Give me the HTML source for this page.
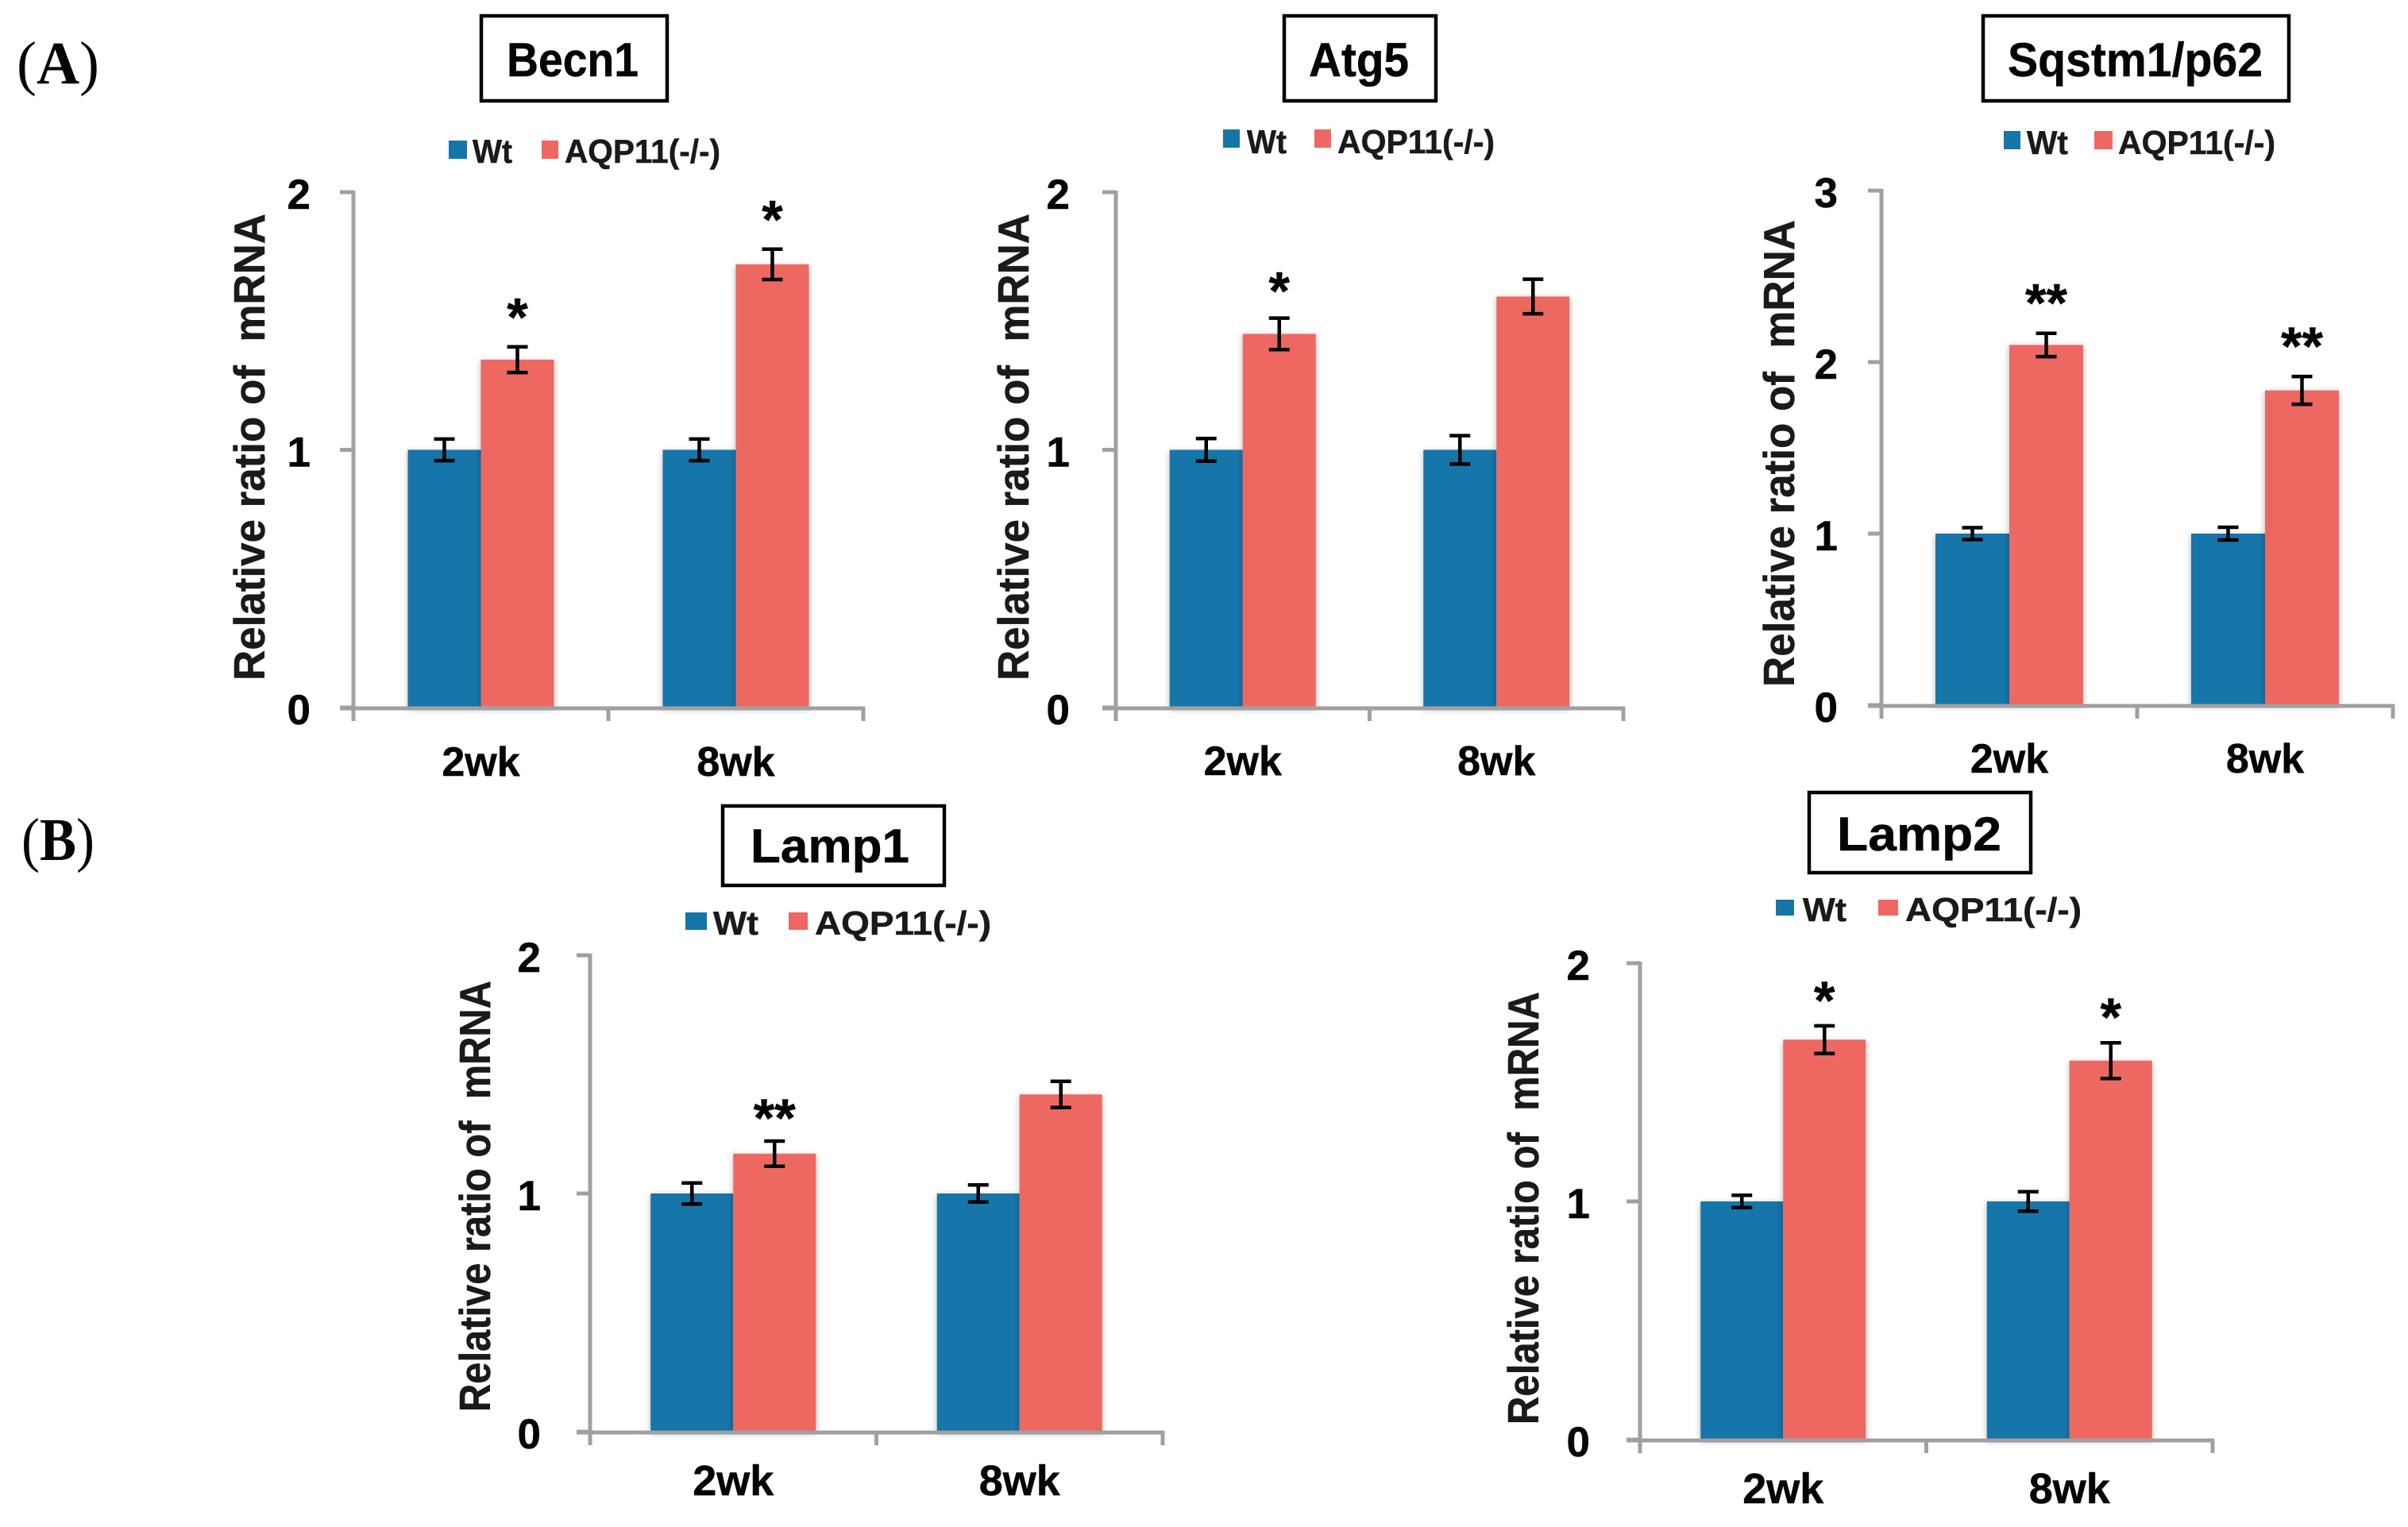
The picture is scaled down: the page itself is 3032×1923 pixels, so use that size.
<!DOCTYPE html>
<html lang="en">
<head>
<meta charset="utf-8">
<title>Relative mRNA ratio of autophagy genes</title>
<style>
  html, body { margin: 0; padding: 0; background: #ffffff; }
  svg { display: block; }
  text { font-family: "Liberation Sans", Arial, sans-serif; font-weight: bold; fill: #050505; stroke: #050505; stroke-width: 0.5; white-space: pre; }
  .panel-letter { font-family: "Liberation Serif", "Times New Roman", serif; font-size: 76px; font-weight: normal; stroke-width: 0; }
  .panel-letter tspan.bold { font-weight: bold; }
  .chart-title { font-size: 60px; }
  .legend-text { font-size: 42px; fill: #1a1a1a; stroke: #1a1a1a; }
  .y-title { font-size: 55px; fill: #1a1a1a; stroke: #1a1a1a; }
  .title-box { fill: #ffffff; stroke: #000000; stroke-width: 4.5; }
  .wt { fill: #1675a9; }
  .ko { fill: #ee6762; }
</style>
</head>
<body>
<svg id="figure" xmlns="http://www.w3.org/2000/svg" width="3032" height="1923" viewBox="0 0 3032 1923">
  <defs>
    <filter id="bar-shadow" x="-15%" y="-5%" width="130%" height="110%">
      <feDropShadow dx="0" dy="2" stdDeviation="4" flood-color="#000000" flood-opacity="0.3"/>
    </filter>
  </defs>
  <rect width="3032" height="1923" fill="#ffffff"/>

  <text class="panel-letter" x="21" y="105" textLength="104" lengthAdjust="spacingAndGlyphs">(<tspan class="bold">A</tspan>)</text>
  <text class="panel-letter" x="27" y="1083" textLength="92" lengthAdjust="spacingAndGlyphs">(<tspan class="bold">B</tspan>)</text>

  <g id="becn1">
    <rect class="title-box" x="606" y="20" width="234" height="107"/>
    <text class="chart-title" x="638" y="96" textLength="166" lengthAdjust="spacingAndGlyphs">Becn1</text>
    <rect class="wt" x="565" y="177" width="23" height="23"/>
    <text class="legend-text" x="595" y="205" textLength="50" lengthAdjust="spacingAndGlyphs">Wt</text>
    <rect class="ko" x="682" y="177" width="21" height="23"/>
    <text class="legend-text" x="711" y="205" textLength="196" lengthAdjust="spacingAndGlyphs">AQP11(-/-)</text>
    <text class="y-title" transform="translate(333,857) rotate(-90)" textLength="588" lengthAdjust="spacingAndGlyphs">Relative ratio of  mRNA</text>
  </g>

  <g id="atg5">
    <rect class="title-box" x="1617" y="20" width="191" height="107"/>
    <text class="chart-title" x="1648" y="96" textLength="126" lengthAdjust="spacingAndGlyphs">Atg5</text>
    <rect class="wt" x="1540" y="163" width="21" height="23"/>
    <text class="legend-text" x="1570" y="193" textLength="50" lengthAdjust="spacingAndGlyphs">Wt</text>
    <rect class="ko" x="1655" y="163" width="21" height="23"/>
    <text class="legend-text" x="1684" y="193" textLength="198" lengthAdjust="spacingAndGlyphs">AQP11(-/-)</text>
    <text class="y-title" transform="translate(1295,857) rotate(-90)" textLength="588" lengthAdjust="spacingAndGlyphs">Relative ratio of  mRNA</text>
  </g>

  <g id="sqstm1">
    <rect class="title-box" x="2497" y="20" width="385" height="107"/>
    <text class="chart-title" x="2528" y="96" textLength="321" lengthAdjust="spacingAndGlyphs">Sqstm1/p62</text>
    <rect class="wt" x="2523" y="165" width="21" height="23"/>
    <text class="legend-text" x="2552" y="194" textLength="52" lengthAdjust="spacingAndGlyphs">Wt</text>
    <rect class="ko" x="2637" y="165" width="23" height="23"/>
    <text class="legend-text" x="2667" y="194" textLength="198" lengthAdjust="spacingAndGlyphs">AQP11(-/-)</text>
    <text class="y-title" transform="translate(2259,865) rotate(-90)" textLength="588" lengthAdjust="spacingAndGlyphs">Relative ratio of  mRNA</text>
  </g>

  <g id="lamp1">
    <rect class="title-box" x="910" y="1015" width="279" height="100"/>
    <text class="chart-title" x="945" y="1086" textLength="200" lengthAdjust="spacingAndGlyphs">Lamp1</text>
    <rect class="wt" x="863" y="1149" width="27" height="22"/>
    <text class="legend-text" x="898" y="1177" textLength="57" lengthAdjust="spacingAndGlyphs">Wt</text>
    <rect class="ko" x="993" y="1149" width="24" height="22"/>
    <text class="legend-text" x="1026" y="1177" textLength="222" lengthAdjust="spacingAndGlyphs">AQP11(-/-)</text>
    <text class="y-title" transform="translate(617,1778) rotate(-90)" textLength="543" lengthAdjust="spacingAndGlyphs">Relative ratio of  mRNA</text>
  </g>

  <g id="lamp2">
    <rect class="title-box" x="2278" y="998" width="279" height="101"/>
    <text class="chart-title" x="2313" y="1071" textLength="207" lengthAdjust="spacingAndGlyphs">Lamp2</text>
    <rect class="wt" x="2236" y="1133" width="23" height="20"/>
    <text class="legend-text" x="2270" y="1160" textLength="55" lengthAdjust="spacingAndGlyphs">Wt</text>
    <rect class="ko" x="2365" y="1133" width="25" height="20"/>
    <text class="legend-text" x="2399" y="1160" textLength="222" lengthAdjust="spacingAndGlyphs">AQP11(-/-)</text>
    <text class="y-title" transform="translate(1937,1794) rotate(-90)" textLength="545" lengthAdjust="spacingAndGlyphs">Relative ratio of  mRNA</text>
  </g>
</svg>

<script>
// ---- Data ----
const categories = ['2wk', '8wk'];

const becn1Wt = [1.00, 1.00];
const becn1Ko = [1.35, 1.72];
const becn1WtErr = [0.042, 0.042];
const becn1KoErr = [0.050, 0.059];
const becn1Stars = ['*', '*'];
const becn1Ticks = ['0', '1', '2'];

const atg5Wt = [1.00, 1.00];
const atg5Ko = [1.45, 1.595];
const atg5WtErr = [0.044, 0.055];
const atg5KoErr = [0.061, 0.067];
const atg5Stars = ['*', ''];
const atg5Ticks = ['0', '1', '2'];

const sqstm1Wt = [1.00, 1.00];
const sqstm1Ko = [2.10, 1.835];
const sqstm1WtErr = [0.035, 0.037];
const sqstm1KoErr = [0.068, 0.081];
const sqstm1Stars = ['**', '**'];
const sqstm1Ticks = ['0', '1', '2', '3'];

const lamp1Wt = [1.00, 1.00];
const lamp1Ko = [1.167, 1.416];
const lamp1WtErr = [0.044, 0.036];
const lamp1KoErr = [0.053, 0.055];
const lamp1Stars = ['**', ''];
const lamp1Ticks = ['0', '1', '2'];

const lamp2Wt = [1.00, 1.00];
const lamp2Ko = [1.679, 1.591];
const lamp2WtErr = [0.026, 0.041];
const lamp2KoErr = [0.058, 0.075];
const lamp2Stars = ['*', '*'];
const lamp2Ticks = ['0', '1', '2'];

// ---- Frame geometry of each plot ----
const frames = {
  becn1:  { left: 445,  right: 1087, top: 242,  bottom: 891,  barWidth: 92,  labelGap: 54, tickFont: 53, catBaseline: 977,  catFont: 52, starGap: 47 },
  atg5:   { left: 1405, right: 2044, top: 242,  bottom: 891,  barWidth: 92,  labelGap: 58, tickFont: 53, catBaseline: 976,  catFont: 52, starGap: 44 },
  sqstm1: { left: 2369, right: 3013, top: 240,  bottom: 888,  barWidth: 93,  labelGap: 55, tickFont: 53, catBaseline: 973,  catFont: 52, starGap: 48 },
  lamp1:  { left: 743,  right: 1464, top: 1203, bottom: 1803, barWidth: 104, labelGap: 62, tickFont: 53, catBaseline: 1883, catFont: 54, starGap: 39 },
  lamp2:  { left: 2065, right: 2786, top: 1213, bottom: 1813, barWidth: 104, labelGap: 63, tickFont: 53, catBaseline: 1893, catFont: 54, starGap: 42 }
};

const SVG_NS = 'http://www.w3.org/2000/svg';
const AXIS_COLOR = '#a0a0a0';

function makeEl(tag, parent, props) {
  const el = document.createElementNS(SVG_NS, tag);
  Object.keys(props).forEach(function (k) { el.setAttribute(k, props[k]); });
  parent.appendChild(el);
  return el;
}

function drawChart(id, wt, ko, wtErr, koErr, stars, ticks) {
  const f = frames[id];
  const root = document.getElementById(id);
  const tickValues = ticks.map(Number);
  const yMax = Math.max.apply(null, tickValues);
  const yScale = function (v) { return f.bottom - (v / yMax) * (f.bottom - f.top); };
  const band = (f.right - f.left) / categories.length;
  const xCenter = function (i) { return f.left + (i + 0.5) * band; };

  // bars
  categories.forEach(function (cat, i) {
    const c = xCenter(i);
    const wtBar = makeEl('rect', root, { x: c - f.barWidth, y: yScale(wt[i]), width: f.barWidth, height: f.bottom - yScale(wt[i]), fill: '#1675a9', filter: 'url(#bar-shadow)' });
    
    
    const koBar = makeEl('rect', root, { x: c, y: yScale(ko[i]), width: f.barWidth, height: f.bottom - yScale(ko[i]), fill: '#ee6762', filter: 'url(#bar-shadow)' });
    
    
  });

  // axes
  const yAxis = makeEl('line', root, { x1: f.left, x2: f.left, y1: f.top - 2, y2: f.bottom + 17, stroke: AXIS_COLOR, 'stroke-width': 5 });
  
  
  const xAxis = makeEl('line', root, { x1: f.left - 17, x2: f.right + 2, y1: f.bottom + 1, y2: f.bottom + 1, stroke: AXIS_COLOR, 'stroke-width': 5 });
  
  

  ticks.forEach(function (t, i) {
    const y = yScale(tickValues[i]);
    const mark = makeEl('line', root, { x1: f.left - 17, x2: f.left, y1: y, y2: y, stroke: AXIS_COLOR, 'stroke-width': 5 });
    
    
    const label = makeEl('text', root, { x: f.left - f.labelGap, y: y + 21, 'text-anchor': 'end', 'font-size': f.tickFont });
    label.textContent = t;
    
    
  });

  for (let i = 1; i <= categories.length; i++) {
    const x = f.left + i * band;
    const mark = makeEl('line', root, { x1: x, x2: x, y1: f.bottom, y2: f.bottom + 17, stroke: AXIS_COLOR, 'stroke-width': 5 });
    
    
  }

  categories.forEach(function (cat, i) {
    const c = xCenter(i);
    const label = makeEl('text', root, { x: c, y: f.catBaseline, 'text-anchor': 'middle', 'font-size': f.catFont });
    label.textContent = cat;
    
    

    // error bars
    [[c - f.barWidth / 2, wt[i], wtErr[i], 'error-bar-wt'], [c + f.barWidth / 2, ko[i], koErr[i], 'error-bar-aqp11']].forEach(function (s) {
      const ex = s[0];
      const hi = yScale(s[1] + s[2]);
      const lo = yScale(s[1] - s[2]);
      const path = makeEl('path', root, { d: 'M' + (ex - 13) + ' ' + hi + 'H' + (ex + 13) + 'M' + ex + ' ' + hi + 'V' + lo + 'M' + (ex - 13) + ' ' + lo + 'H' + (ex + 13), fill: 'none', stroke: '#000000', 'stroke-width': 4.5 });
      
      
    });

    // significance marks
    if (stars[i]) {
      const starY = yScale(ko[i] + koErr[i]) - f.starGap;
      const star = makeEl('text', root, { x: c + f.barWidth / 2, y: starY + 33, 'text-anchor': 'middle', 'font-size': 68 });
      star.textContent = stars[i];
      
      
    }
  });
}

drawChart('becn1', becn1Wt, becn1Ko, becn1WtErr, becn1KoErr, becn1Stars, becn1Ticks);
drawChart('atg5', atg5Wt, atg5Ko, atg5WtErr, atg5KoErr, atg5Stars, atg5Ticks);
drawChart('sqstm1', sqstm1Wt, sqstm1Ko, sqstm1WtErr, sqstm1KoErr, sqstm1Stars, sqstm1Ticks);
drawChart('lamp1', lamp1Wt, lamp1Ko, lamp1WtErr, lamp1KoErr, lamp1Stars, lamp1Ticks);
drawChart('lamp2', lamp2Wt, lamp2Ko, lamp2WtErr, lamp2KoErr, lamp2Stars, lamp2Ticks);
</script>
</body>
</html>
